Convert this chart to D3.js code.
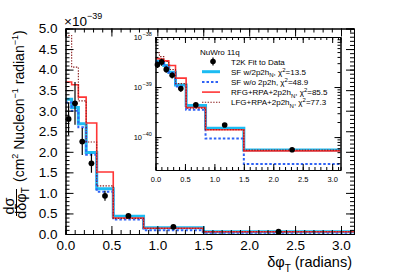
<!DOCTYPE html>
<html>
<head>
<meta charset="utf-8">
<script src="https://cdn.jsdelivr.net/npm/d3@7"></script>
<style>
body { margin: 0; background: #fff; }
text { font-family: "Liberation Sans", Arial, Helvetica, sans-serif; fill: #000; }
</style>
</head>
<body>
<svg id="plot" width="407" height="276"></svg>
<script>
// bin edges in dphiT (radians)
const binEdges = [0, 0.067, 0.14, 0.225, 0.34, 0.52, 0.85, 1.5, Math.PI];
// cross sections, units of 1e-39 cm^2 / nucleon / radian
const sfWith2p2h = [3.28, 3.08, 2.68, 1.98, 1.10, 0.43, 0.15, 0.055];
const sfNo2p2h   = [3.20, 3.00, 2.60, 1.93, 1.03, 0.35, 0.094, 0.029];
const rfgRpa     = [3.70, 3.63, 3.33, 2.70, 1.51, 0.39, 0.14, 0.053];
const lfgRpa     = [4.83, 4.06, 3.24, 2.24, 1.17, 0.38, 0.14, 0.055];
// T2K data
const dataX   = [0.0335, 0.1035, 0.1825, 0.2825, 0.43, 0.685, 1.175, 2.32];
const dataY   = [2.80, 3.18, 2.25, 1.72, 0.93, 0.44, 0.175, 0.056];
const dataErr = [0.40, 0.52, 0.33, 0.23, 0.12, 0.03, 0.015, 0.005];

const mainTicksY = d3.range(0, 5.01, 0.5);
const mainTicksX = [0, 0.5, 1, 1.5, 2, 2.5, 3];
const insetDecades = [1e-38, 1e-39, 1e-40];
const legendNames = ["SF w/2p2h", "SF w/o 2p2h", "RFG+RPA+2p2h", "LFG+RPA+2p2h"];
const legendSubs = ["N", "", "N", "N"];
const chi2 = ["13.5", "48.9", "85.5", "77.3"];

const svg = d3.select("#plot");

const series = [
  {vals: sfWith2p2h, color: "#1cbcf2", w: 3, dash: null},
  {vals: sfNo2p2h, color: "#2f62f5", w: 2, dash: "2.5,2"},
  {vals: rfgRpa, color: "#ff3535", w: 1.6, dash: null},
  {vals: lfgRpa, color: "#8a1c1c", w: 1.1, dash: "1.4,1.4"}
];

function stepPoints(vals) {
  var pts = [];
  for (var i = 0; i < vals.length; i++) {
    pts.push([binEdges[i], vals[i]]);
    pts.push([binEdges[i + 1], vals[i]]);
  }
  return pts;
}

// ---------- main plot ----------
const x = d3.scaleLinear().domain([0, Math.PI]).range([65.5, 354]);
const y = d3.scaleLinear().domain([0, 5]).range([234, 28.5]);

const main = svg.append("g");

const hline = d3.line().x(d => x(d[0])).y(d => y(d[1]));
series.forEach(function(s) {
  main.append("path").attr("d", hline(stepPoints(s.vals)))
    .attr("fill", "none").attr("stroke", s.color).attr("stroke-width", s.w)
    .attr("stroke-dasharray", s.dash);
});

dataX.forEach(function(d, i) {
  main.append("line").attr("x1", x(d)).attr("x2", x(d))
    .attr("y1", y(dataY[i] - dataErr[i])).attr("y2", y(dataY[i] + dataErr[i]))
    .attr("stroke", "#000").attr("stroke-width", 1.2);
  main.append("circle").attr("cx", x(d)).attr("cy", y(dataY[i])).attr("r", 2.9).attr("fill", "#000");
});

function styleAxis(g) {
  g.select(".domain").attr("stroke", "#000").attr("stroke-width", 1);
  g.selectAll(".tick line").attr("stroke", "#000");
  g.selectAll("text").attr("fill", "#000").attr("font-family", "Liberation Sans, Arial, sans-serif");
}

// y axis left
main.append("g").attr("transform", "translate(65.5,0)")
  .call(d3.axisLeft(y).tickValues(d3.range(0, 5.01, 0.1)).tickSize(-4).tickFormat(""))
  .call(styleAxis);
main.append("g").attr("transform", "translate(65.5,0)")
  .call(d3.axisLeft(y).tickValues(mainTicksY).tickSizeInner(-8).tickSizeOuter(0).tickPadding(8).tickFormat(d3.format(".1f")))
  .call(styleAxis)
  .call(g => g.selectAll("text").attr("font-size", 13.5));
// y axis right
main.append("g").attr("transform", "translate(354,0)")
  .call(d3.axisRight(y).tickValues(d3.range(0, 5.01, 0.1)).tickSize(-4).tickFormat(""))
  .call(styleAxis);
main.append("g").attr("transform", "translate(354,0)")
  .call(d3.axisRight(y).tickValues(mainTicksY).tickSize(-8).tickFormat(""))
  .call(styleAxis);
// x axis bottom
main.append("g").attr("transform", "translate(0,234)")
  .call(d3.axisBottom(x).tickValues(d3.range(0, 3.15, 0.1)).tickSize(-4).tickFormat(""))
  .call(styleAxis);
main.append("g").attr("transform", "translate(0,234)")
  .call(d3.axisBottom(x).tickValues(mainTicksX).tickSizeInner(-8).tickSizeOuter(0).tickPadding(6).tickFormat(d3.format(".1f")))
  .call(styleAxis)
  .call(g => g.selectAll("text").attr("font-size", 13.5));
// x axis top
main.append("g").attr("transform", "translate(0,28.5)")
  .call(d3.axisTop(x).tickValues(d3.range(0, 3.15, 0.1)).tickSize(-4).tickFormat(""))
  .call(styleAxis);
main.append("g").attr("transform", "translate(0,28.5)")
  .call(d3.axisTop(x).tickValues(mainTicksX).tickSize(-8).tickFormat(""))
  .call(styleAxis);

// exponent label
const ex = svg.append("text").attr("x", 64).attr("y", 26).attr("font-size", 13.5);
ex.append("tspan").text("\u00d710");
ex.append("tspan").attr("font-size", 9).attr("dy", -7).text("\u221239");

// x title
const xt = svg.append("text").attr("x", 352).attr("y", 267).attr("text-anchor", "end").attr("font-size", 14.5);
xt.append("tspan").text("\u03b4\u03c6");
xt.append("tspan").attr("font-size", 10).attr("dy", 5).text("T");
xt.append("tspan").attr("dy", -5).text(" (radians)");

// y title
const yt = svg.append("g").attr("transform", "translate(16,203) rotate(-90)");
yt.append("text").attr("x", -3).attr("y", -2).attr("text-anchor", "middle").attr("font-size", 14.5).text("d\u03c3");
const den = yt.append("text").attr("x", 0).attr("y", 10).attr("text-anchor", "middle").attr("font-size", 14.5);
den.append("tspan").text("d\u03b4\u03c6");
den.append("tspan").attr("font-size", 10).attr("dy", 3).text("T");
yt.append("line").attr("x1", -13).attr("x2", 14).attr("y1", 0.5).attr("y2", 0.5).attr("stroke", "#000").attr("stroke-width", 1);
const unitT = yt.append("text").attr("x", 21).attr("y", 8).attr("font-size", 14);
unitT.append("tspan").text("(cm");
unitT.append("tspan").attr("font-size", 9).attr("dy", -6).text("2");
unitT.append("tspan").attr("dy", 6).text(" Nucleon");
unitT.append("tspan").attr("font-size", 9).attr("dy", -6).text("\u22121");
unitT.append("tspan").attr("dy", 6).text(" radian");
unitT.append("tspan").attr("font-size", 9).attr("dy", -6).text("\u22121");
unitT.append("tspan").attr("dy", 6).text(")");

// ---------- inset ----------
const xi = d3.scaleLinear().domain([0, Math.PI]).range([155.5, 340.5]);
const yi = d3.scaleLog().domain([2.2e-41, 1e-38]).range([170, 37]);
const inset = svg.append("g");
inset.append("rect").attr("x", 155.5).attr("y", 37).attr("width", 185).attr("height", 133).attr("fill", "#fff");

const iline = d3.line().x(d => xi(d[0])).y(d => yi(d[1] * 1e-39));
series.forEach(function(s) {
  inset.append("path").attr("d", iline(stepPoints(s.vals)))
    .attr("fill", "none").attr("stroke", s.color).attr("stroke-width", s.w)
    .attr("stroke-dasharray", s.dash);
});
dataX.forEach(function(d, i) {
  inset.append("line").attr("x1", xi(d)).attr("x2", xi(d))
    .attr("y1", yi((dataY[i] - dataErr[i]) * 1e-39)).attr("y2", yi((dataY[i] + dataErr[i]) * 1e-39))
    .attr("stroke", "#000").attr("stroke-width", 1.2);
  inset.append("circle").attr("cx", xi(d)).attr("cy", yi(dataY[i] * 1e-39)).attr("r", 2.8).attr("fill", "#000");
});

var minorLog = [];
[-41, -40, -39].forEach(function(k) {
  for (var m = 1; m < 10; m++) {
    var v = m * Math.pow(10, k);
    if (v >= 2.2e-41 && v <= 1e-38) minorLog.push(v);
  }
});

inset.append("g").attr("transform", "translate(155.5,0)")
  .call(d3.axisLeft(yi).tickValues(minorLog).tickSize(-3).tickFormat(""))
  .call(styleAxis);
inset.append("g").attr("transform", "translate(155.5,0)")
  .call(d3.axisLeft(yi).tickValues(insetDecades).tickSizeInner(-6).tickSizeOuter(0).tickFormat(""))
  .call(styleAxis);
inset.append("g").attr("transform", "translate(340.5,0)")
  .call(d3.axisRight(yi).tickValues(minorLog).tickSize(-3).tickFormat(""))
  .call(styleAxis);
inset.append("g").attr("transform", "translate(340.5,0)")
  .call(d3.axisRight(yi).tickValues(insetDecades).tickSizeInner(-6).tickSizeOuter(0).tickFormat(""))
  .call(styleAxis);
inset.append("g").attr("transform", "translate(0,170)")
  .call(d3.axisBottom(xi).tickValues(d3.range(0, 3.15, 0.1)).tickSize(-3).tickFormat(""))
  .call(styleAxis);
inset.append("g").attr("transform", "translate(0,170)")
  .call(d3.axisBottom(xi).tickValues(mainTicksX).tickSizeInner(-6).tickSizeOuter(0).tickPadding(7).tickFormat(d3.format(".1f")))
  .call(styleAxis)
  .call(g => g.selectAll("text").attr("font-size", 7.5));
inset.append("g").attr("transform", "translate(0,37)")
  .call(d3.axisTop(xi).tickValues(d3.range(0, 3.15, 0.1)).tickSize(-3).tickFormat(""))
  .call(styleAxis);
inset.append("g").attr("transform", "translate(0,37)")
  .call(d3.axisTop(xi).tickValues(mainTicksX).tickSize(-6).tickFormat(""))
  .call(styleAxis);

insetDecades.forEach(function(v) {
  var t = inset.append("text").attr("x", 142).attr("y", yi(v) + 3).attr("text-anchor", "end").attr("font-size", 7.5);
  t.text("10");
  inset.append("text").attr("x", 142.5).attr("y", yi(v) - 1).attr("font-size", 5.5).text("\u2212" + Math.round(-Math.log10(v)));
});

// legend
const lg = inset.append("g");
lg.append("text").attr("x", 200).attr("y", 54.5).attr("font-size", 8).text("NuWro 11q");
const rowY = d3.range(5).map(i => 61.5 + i * 10.2);
lg.append("circle").attr("cx", 213).attr("cy", rowY[0]).attr("r", 2.8).attr("fill", "#000");
lg.append("line").attr("x1", 213).attr("x2", 213).attr("y1", rowY[0] - 4).attr("y2", rowY[0] + 4).attr("stroke", "#000").attr("stroke-width", 1.2);
lg.append("text").attr("x", 231).attr("y", rowY[0] + 3).attr("font-size", 8).text("T2K Fit to Data");
series.forEach(function(s, i) {
  var ry = rowY[i + 1];
  lg.append("line").attr("x1", 202).attr("x2", 220).attr("y1", ry).attr("y2", ry)
    .attr("stroke", s.color).attr("stroke-width", s.w).attr("stroke-dasharray", s.dash);
  var t = lg.append("text").attr("x", 231).attr("y", ry + 3).attr("font-size", 8);
  t.append("tspan").text(legendNames[i]);
  if (legendSubs[i]) {
    t.append("tspan").attr("font-size", 6).attr("dy", 2.5).text(legendSubs[i]);
    t.append("tspan").attr("dy", -2.5).text(", \u03c7");
  } else {
    t.append("tspan").text(", \u03c7");
  }
  t.append("tspan").attr("font-size", 6).attr("dy", -3).text("2");
  t.append("tspan").attr("dy", 3).text("=" + chi2[i]);
});
</script>
</body>
</html>
